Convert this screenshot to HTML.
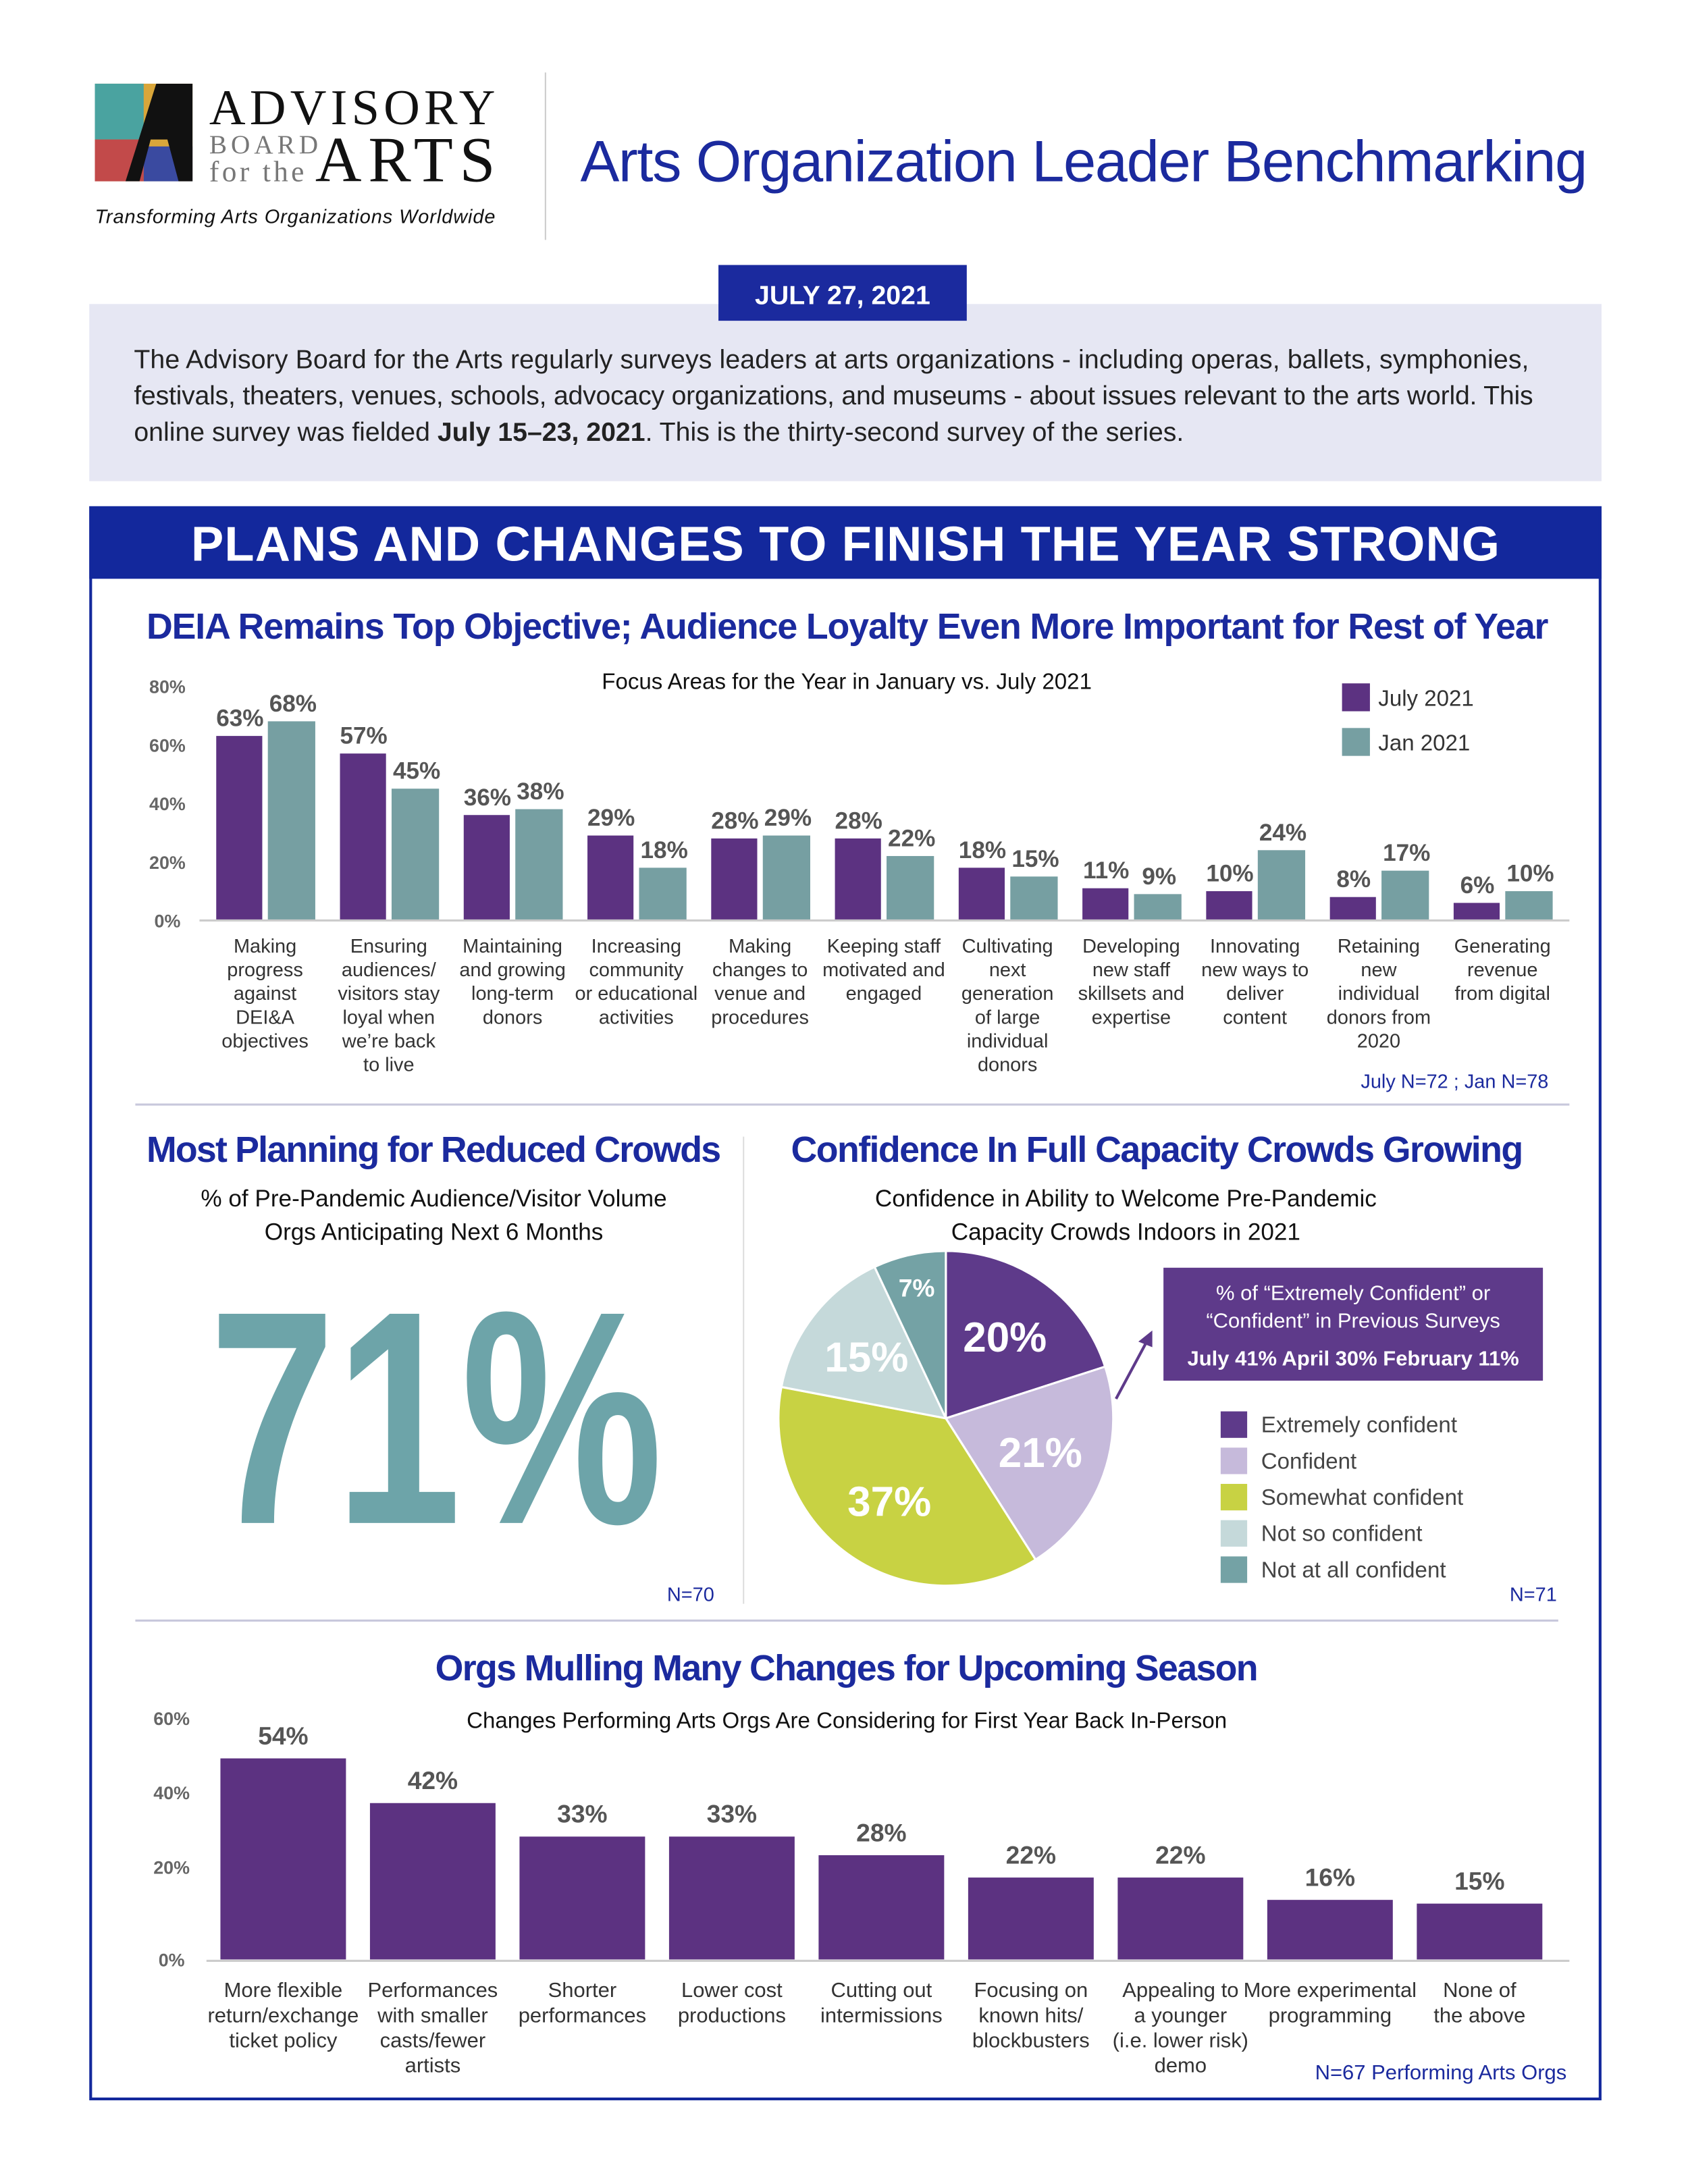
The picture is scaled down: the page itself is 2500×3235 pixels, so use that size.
<!DOCTYPE html>
<html><head><meta charset="utf-8">
<style>
html,body{margin:0;padding:0;background:#fff;}
svg{display:block;}
text{font-family:"Liberation Sans",sans-serif;}
text.serif{font-family:"Liberation Serif",serif;}
</style></head>
<body>
<svg id="page" width="2500" height="3235" viewBox="0 0 1210 1566" preserveAspectRatio="none" xmlns="http://www.w3.org/2000/svg">
<rect width="1210" height="1566" fill="#fff"/>
<!-- logo -->
<g>
  <rect x="68" y="60" width="70" height="70" fill="#d9a63a"/>
  <rect x="68" y="60" width="35" height="40" fill="#4aa3a0"/>
  <rect x="68" y="100" width="35" height="30" fill="#c24a4a"/>
  <rect x="103" y="105" width="35" height="25" fill="#3a4aa0"/>
  <polygon points="112,60 138,60 138,130 128,130 120,100 108,100 100,130 90,130" fill="#111"/>
  <text class="serif" x="150" y="89" font-size="36" fill="#111" textLength="205">ADVISORY</text>
  <text class="serif" x="150" y="110" font-size="19" fill="#777" textLength="78">BOARD</text>
  <text class="serif" x="150" y="130" font-size="21" fill="#777" textLength="68">for the</text>
  <text class="serif" x="226" y="130" font-size="46" fill="#111" textLength="129">ARTS</text>
  <text x="68" y="160" font-size="14" font-style="italic" fill="#111" textLength="287">Transforming Arts Organizations Worldwide</text>
</g>
<line x1="391" y1="52" x2="391" y2="172" stroke="#ccc" stroke-width="1"/>
<text x="416" y="130" font-size="42" fill="#1b2a9e" textLength="722">Arts Organization Leader Benchmarking</text>

<rect x="64" y="218" width="1084" height="127" fill="#e6e7f3"/>
<rect x="515" y="190" width="178" height="40" fill="#1b2a9e"/>
<text x="604" y="218" font-size="19" font-weight="bold" fill="#fff" text-anchor="middle">JULY 27, 2021</text>
<g font-size="19" fill="#222">
<text x="96" y="264" textLength="1000">The Advisory Board for the Arts regularly surveys leaders at arts organizations - including  operas, ballets, symphonies,</text>
<text x="96" y="290" textLength="1003">festivals, theaters, venues, schools, advocacy organizations, and museums - about issues relevant to the arts world. This</text>
<text x="96" y="316">online survey was fielded <tspan font-weight="bold">July 15–23, 2021</tspan>. This is the thirty-second survey of the series.</text>
</g>

<rect x="64" y="363" width="1084" height="52" fill="#13289c"/>
<text x="606" y="402" font-size="35" font-weight="bold" fill="#fff" text-anchor="middle" textLength="938">PLANS AND CHANGES TO FINISH THE YEAR STRONG</text>
<rect x="65" y="364" width="1082" height="1141" fill="none" stroke="#13289c" stroke-width="2"/>

<text x="105" y="458" font-size="26" font-weight="bold" fill="#1b2a9e" textLength="1005">DEIA Remains Top Objective; Audience Loyalty Even More Important for Rest of Year</text>
<text x="607" y="494" font-size="16" fill="#111" text-anchor="middle">Focus Areas for the Year in January vs. July 2021</text>
<g id="chart1"></g>
<rect x="962" y="490" width="20" height="20" fill="#5c3281"/>
<text x="988" y="506" font-size="16" fill="#333">July 2021</text>
<rect x="962" y="522" width="20" height="20" fill="#769fa2"/>
<text x="988" y="538" font-size="16" fill="#333">Jan 2021</text>
<text x="1110" y="780" font-size="14" fill="#1b2a9e" text-anchor="end">July N=72 ; Jan N=78</text>
<line x1="97" y1="792" x2="1125" y2="792" stroke="#c8c8dc" stroke-width="1.5"/>

<!-- middle left -->
<text x="105" y="833" font-size="26" font-weight="bold" fill="#1b2a9e" textLength="412">Most Planning for Reduced Crowds</text>
<text x="311" y="865" font-size="17" fill="#111" text-anchor="middle">% of Pre-Pandemic Audience/Visitor Volume</text>
<text x="311" y="889" font-size="17" fill="#111" text-anchor="middle">Orgs Anticipating Next 6 Months</text>
<text x="150" y="1092" font-size="218" font-weight="bold" fill="#6da4a9" textLength="325" lengthAdjust="spacingAndGlyphs">71%</text>
<text x="512" y="1148" font-size="14" fill="#1b2a9e" text-anchor="end">N=70</text>
<line x1="533" y1="815" x2="533" y2="1150" stroke="#ddd" stroke-width="1"/>

<!-- middle right -->
<text x="567" y="833" font-size="26" font-weight="bold" fill="#1b2a9e" textLength="525">Confidence In Full Capacity Crowds Growing</text>
<text x="807" y="865" font-size="17" fill="#111" text-anchor="middle">Confidence in Ability to Welcome Pre-Pandemic</text>
<text x="807" y="889" font-size="17" fill="#111" text-anchor="middle">Capacity Crowds Indoors in 2021</text>
<g id="pie"></g>
<rect x="834" y="909" width="272" height="81" fill="#5e3a8a"/>
<text x="970" y="932" font-size="15" fill="#fff" text-anchor="middle">% of “Extremely Confident” or</text>
<text x="970" y="952" font-size="15" fill="#fff" text-anchor="middle">“Confident” in Previous Surveys</text>
<text x="970" y="979" font-size="15" font-weight="bold" fill="#fff" text-anchor="middle">July 41%  April 30%  February 11%</text>
<line x1="800" y1="1003" x2="822" y2="962" stroke="#5e3a8a" stroke-width="2"/>
<polygon points="826,954 816,962 826,966" fill="#5e3a8a"/>
<g id="pieLegend"></g>
<text x="1116" y="1148" font-size="14" fill="#1b2a9e" text-anchor="end">N=71</text>
<line x1="97" y1="1162" x2="1117" y2="1162" stroke="#c8c8dc" stroke-width="1.5"/>

<!-- bottom -->
<text x="607" y="1205" font-size="26" font-weight="bold" fill="#1b2a9e" text-anchor="middle" textLength="590">Orgs Mulling Many Changes for Upcoming Season</text>
<text x="607" y="1239" font-size="16" fill="#111" text-anchor="middle">Changes Performing Arts Orgs Are Considering for First Year Back In-Person</text>
<g id="chart3"></g>
<text x="1123" y="1491" font-size="15" fill="#1b2a9e" text-anchor="end">N=67 Performing Arts Orgs</text>
</svg>
<script>
const NS="http://www.w3.org/2000/svg";
// chart 1 data
const c1Categories=[["Making","progress","against","DEI&A","objectives"],["Ensuring","audiences/","visitors stay","loyal when","we’re back","to live"],["Maintaining","and growing","long-term","donors"],["Increasing","community","or educational","activities"],["Making","changes to","venue and","procedures"],["Keeping staff","motivated and","engaged"],["Cultivating","next","generation","of large","individual","donors"],["Developing","new staff","skillsets and","expertise"],["Innovating","new ways to","deliver","content"],["Retaining","new","individual","donors from","2020"],["Generating","revenue","from digital"]];
const c1July=[63,57,36,29,28,28,18,11,10,8,6];
const c1Jan=[68,45,38,18,29,22,15,9,24,17,10];
const c1Ticks=[0,20,40,60,80];
// chart 3 data
const c3Categories=[["More flexible","return/exchange","ticket policy"],["Performances","with smaller","casts/fewer","artists"],["Shorter","performances"],["Lower cost","productions"],["Cutting out","intermissions"],["Focusing on","known hits/","blockbusters"],["Appealing to","a younger","(i.e. lower risk)","demo"],["More experimental","programming"],["None of","the above"]];
const c3Values=[54,42,33,33,28,22,22,16,15];
const c3Ticks=[0,20,40,60];
// pie data
const pieLabels=["Extremely confident","Confident","Somewhat confident","Not so confident","Not at all confident"];
const pieValues=[20,21,37,15,7];
const pieColors=["#5e3a8a","#c6badb","#c8d243","#c5d9da","#74a2a5"];

function mk(tag,attrs,parent,txt){const e=document.createElementNS(NS,tag);for(const k in attrs)e.setAttribute(k,attrs[k]);if(txt!==undefined)e.textContent=txt;parent.appendChild(e);return e;}

// chart 1
(function(){
const g=document.getElementById('chart1');
const y=v=>660-v*2.1, x=i=>190+i*88.7;
c1Ticks.forEach(t=>{const e=mk('text',{x:120,y:y(t)+5,'font-size':13,'font-weight':'bold',fill:'#666','text-anchor':'middle'},g,t+'%');

});
c1July.forEach((v,i)=>{
 const c=x(i);
 const b=mk('rect',{x:c-35,y:y(v),width:33,height:v*2.1,fill:'#5c3281'},g);
 
 
 const l=mk('text',{x:c-18,y:y(v)-7,'font-size':17,'font-weight':'bold',fill:'#555','text-anchor':'middle'},g,v+'%');
 
 
 const vj=c1Jan[i];
 const b2=mk('rect',{x:c+2,y:y(vj),width:34,height:vj*2.1,fill:'#769fa2'},g);
 
 
 const l2=mk('text',{x:c+20,y:y(vj)-7,'font-size':17,'font-weight':'bold',fill:'#555','text-anchor':'middle'},g,vj+'%');
 
 
 c1Categories[i].forEach((s,j)=>{const t=mk('text',{x:c,y:683+j*17,'font-size':14,fill:'#333','text-anchor':'middle'},g,s);
 
 });
});
mk('line',{x1:143,y1:660,x2:1125,y2:660,stroke:'#ccc','stroke-width':1.5},g);
})();

// chart 3
(function(){
const g=document.getElementById('chart3');
const y=v=>1405-v*2.67, x=i=>203+i*107.2;
c3Ticks.forEach(t=>{const e=mk('text',{x:123,y:y(t)+(t?-8:5),'font-size':13,'font-weight':'bold',fill:'#666','text-anchor':'middle'},g,t+'%');

});
c3Values.forEach((v,i)=>{
 const c=x(i);
 const b=mk('rect',{x:c-45,y:y(v),width:90,height:v*2.67,fill:'#5c3281'},g);
 
 
 const l=mk('text',{x:c,y:y(v)-10,'font-size':18,'font-weight':'bold',fill:'#555','text-anchor':'middle'},g,v+'%');
 
 
 c3Categories[i].forEach((s,j)=>{const t=mk('text',{x:c,y:1432+j*18,'font-size':15,fill:'#333','text-anchor':'middle'},g,s);
 
 });
});
mk('line',{x1:148,y1:1406,x2:1125,y2:1406,stroke:'#ccc','stroke-width':1.5},g);
})();

// pie
(function(){
const g=document.getElementById('pie');
const cx=678,cy=1017,r=120;
const tot=pieValues.reduce((a,b)=>a+b,0);
let a0=-Math.PI/2;
pieValues.forEach((v,i)=>{
 const a1=a0+v/tot*2*Math.PI;
 const large=(a1-a0)>Math.PI?1:0;
 const d=`M${cx},${cy} L${cx+r*Math.cos(a0)},${cy+r*Math.sin(a0)} A${r},${r} 0 ${large} 1 ${cx+r*Math.cos(a1)},${cy+r*Math.sin(a1)} Z`;
 const p=mk('path',{d:d,fill:pieColors[i],stroke:'#fff','stroke-width':1.5},g);
 
 
 const m=(a0+a1)/2, rr=v<10?0.8*r:0.6*r;
 const fs=v<10?18:30;
 const t=mk('text',{x:cx+rr*Math.cos(m),y:cy+rr*Math.sin(m)+fs*0.35,'font-size':fs,'font-weight':'bold',fill:'#fff','text-anchor':'middle'},g,v+'%');
 
 
 a0=a1;
});
const lg=document.getElementById('pieLegend');
pieLabels.forEach((s,i)=>{
 const sw=mk('rect',{x:875,y:1012+i*26,width:19,height:19,fill:pieColors[i]},lg);
 
 
 const t=mk('text',{x:904,y:1027+i*26,'font-size':16,fill:'#444'},lg,s);
 
 
});
})();
</script>
</body></html>
